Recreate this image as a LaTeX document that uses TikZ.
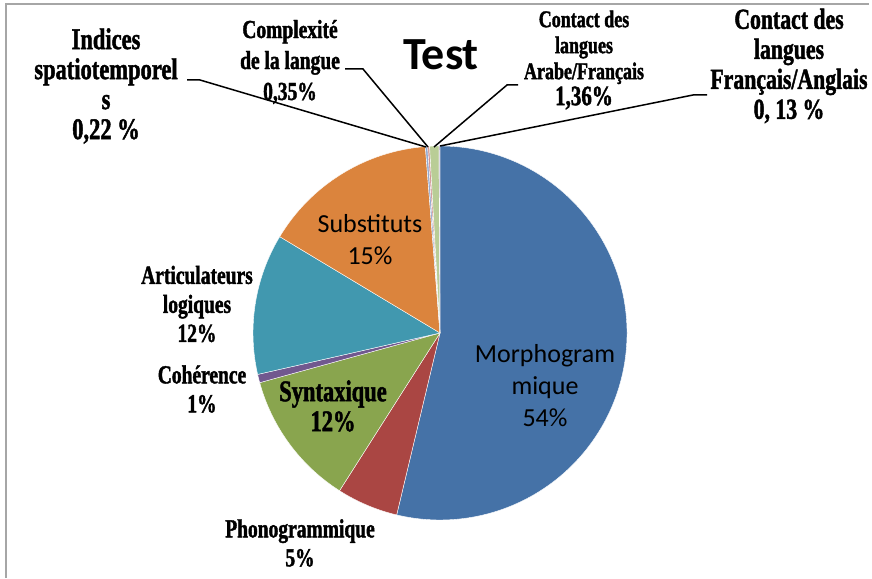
\documentclass[tikz,border=0pt]{standalone}
\usepackage{fontspec}
\setmainfont{Carlito}
\newfontfamily\labfont[UprightFont={* Bold},FakeStretch=0.75,FakeBold=1.5]{Liberation Serif}

\definecolor{morpho}{HTML}{4572A7}
\definecolor{phono}{HTML}{AA4643}
\definecolor{syntax}{HTML}{89A54E}
\definecolor{coher}{HTML}{71588F}
\definecolor{artic}{HTML}{4198AF}
\definecolor{subst}{HTML}{DB843D}
\definecolor{indic}{HTML}{93A9CF}
\definecolor{complx}{HTML}{D19392}
\definecolor{arabe}{HTML}{B9CD96}
\definecolor{angl}{HTML}{A99BBD}

\begin{document}
\begin{tikzpicture}[x=1pt,y=1pt,
  lab/.style={align=center,inner sep=0pt,font=\labfont\fontsize{26}{29}\selectfont},
  labbig/.style={align=center,inner sep=0pt,font=\labfont\fontsize{30}{30}\selectfont},
  inlab/.style={align=center,inner sep=0pt,font=\fontsize{26}{32}\selectfont},
  slice/.style={draw=white,line width=0.4pt},
  leader/.style={draw=black,line width=1.5pt}]
  \useasboundingbox (0,0) rectangle (872,578);

  % Rahmen
  \draw[gray!70,line width=1.5pt] (6,0) -- (6,574) -- (869,574);

  % Titel
  \node[font=\bfseries\fontsize{46}{46}\selectfont] (titel) at (441,523) {Test};

  % Sektoren
  \coordinate (mitte) at (440,245);
  \fill[morpho,slice] (mitte) -- ++(90:187) arc[start angle=90,end angle=-103.4,radius=187] -- cycle;
  \fill[phono,slice] (mitte) -- ++(-103.4:187) arc[start angle=-103.4,end angle=-122.5,radius=187] -- cycle;
  \fill[syntax,slice] (mitte) -- ++(-122.5:187) arc[start angle=-122.5,end angle=-164.6,radius=187] -- cycle;
  \fill[coher,slice] (mitte) -- ++(-164.6:187) arc[start angle=-164.6,end angle=-167.2,radius=187] -- cycle;
  \fill[artic,slice] (mitte) -- ++(-167.2:187) arc[start angle=-167.2,end angle=-211,radius=187] -- cycle;
  \fill[subst,slice] (mitte) -- ++(-211:187) arc[start angle=-211,end angle=-265.5,radius=187] -- cycle;
  \fill[indic,slice] (mitte) -- ++(-265.5:187) arc[start angle=-265.5,end angle=-266.2,radius=187] -- cycle;
  \fill[complx,slice] (mitte) -- ++(-266.2:187) arc[start angle=-266.2,end angle=-266.8,radius=187] -- cycle;
  \fill[arabe,slice] (mitte) -- ++(-266.8:187) arc[start angle=-266.8,end angle=-269.7,radius=187] -- cycle;
  \fill[angl,slice] (mitte) -- ++(-269.7:187) arc[start angle=-269.7,end angle=-270,radius=187] -- cycle;

  % Beschriftungen innen
  \node[inlab] (morpholab) at (545,192) {Morphogram\\mique\\54\%};
  \node[inlab] (substlab) at (370,338) {Substituts\\15\%};

  % Beschriftungen aussen
  \node[labbig] (syntaxlab) at (333,172) {Syntaxique\\12\%};
  \node[lab] (phonolab) at (300,35) {Phonogrammique\\5\%};
  \node[lab] (coherlab) at (202,189) {Cohérence\\1\%};
  \node[lab] (articlab) at (197,274) {Articulateurs\\logiques\\12\%};
  \node[labbig] (indiclab) at (106,492) {Indices\\spatiotemporel\\s\\0,22 \%};
  \node[lab,font=\labfont\fontsize{26}{31}\selectfont] (complxlab) at (290,516) {Complexité\\de la langue\\0,35\%};
  \node[lab,font=\labfont\fontsize{24}{26}\selectfont] (arabelab) at (584,518) {Contact des\\langues\\Arabe/Français\\{\fontsize{28}{28}\selectfont 1,36\%}};
  \node[lab,font=\labfont\fontsize{29}{30}\selectfont] (angllab) at (789,512) {Contact des\\langues\\Français/Anglais\\0, 13 \%};

  % Fuehrungslinien
  \coordinate (indic-a) at (187,498);
  \coordinate (indic-k) at (200,498);
  \coordinate (indic-p) at (426,431);
  \draw[leader] (indic-a) -- (indic-k) -- (indic-p);

  \coordinate (complx-a) at (345,509);
  \coordinate (complx-k) at (363,509);
  \coordinate (complx-p) at (428,431);
  \draw[leader] (complx-a) -- (complx-k) -- (complx-p);

  \coordinate (arabe-a) at (518,493);
  \coordinate (arabe-k) at (507,493);
  \coordinate (arabe-p) at (434,431);
  \draw[leader] (arabe-a) -- (arabe-k) -- (arabe-p);

  \coordinate (angl-a) at (707,483);
  \coordinate (angl-k) at (693,483);
  \coordinate (angl-p) at (440,432);
  \draw[leader] (angl-a) -- (angl-k) -- (angl-p);
\end{tikzpicture}
\end{document}
